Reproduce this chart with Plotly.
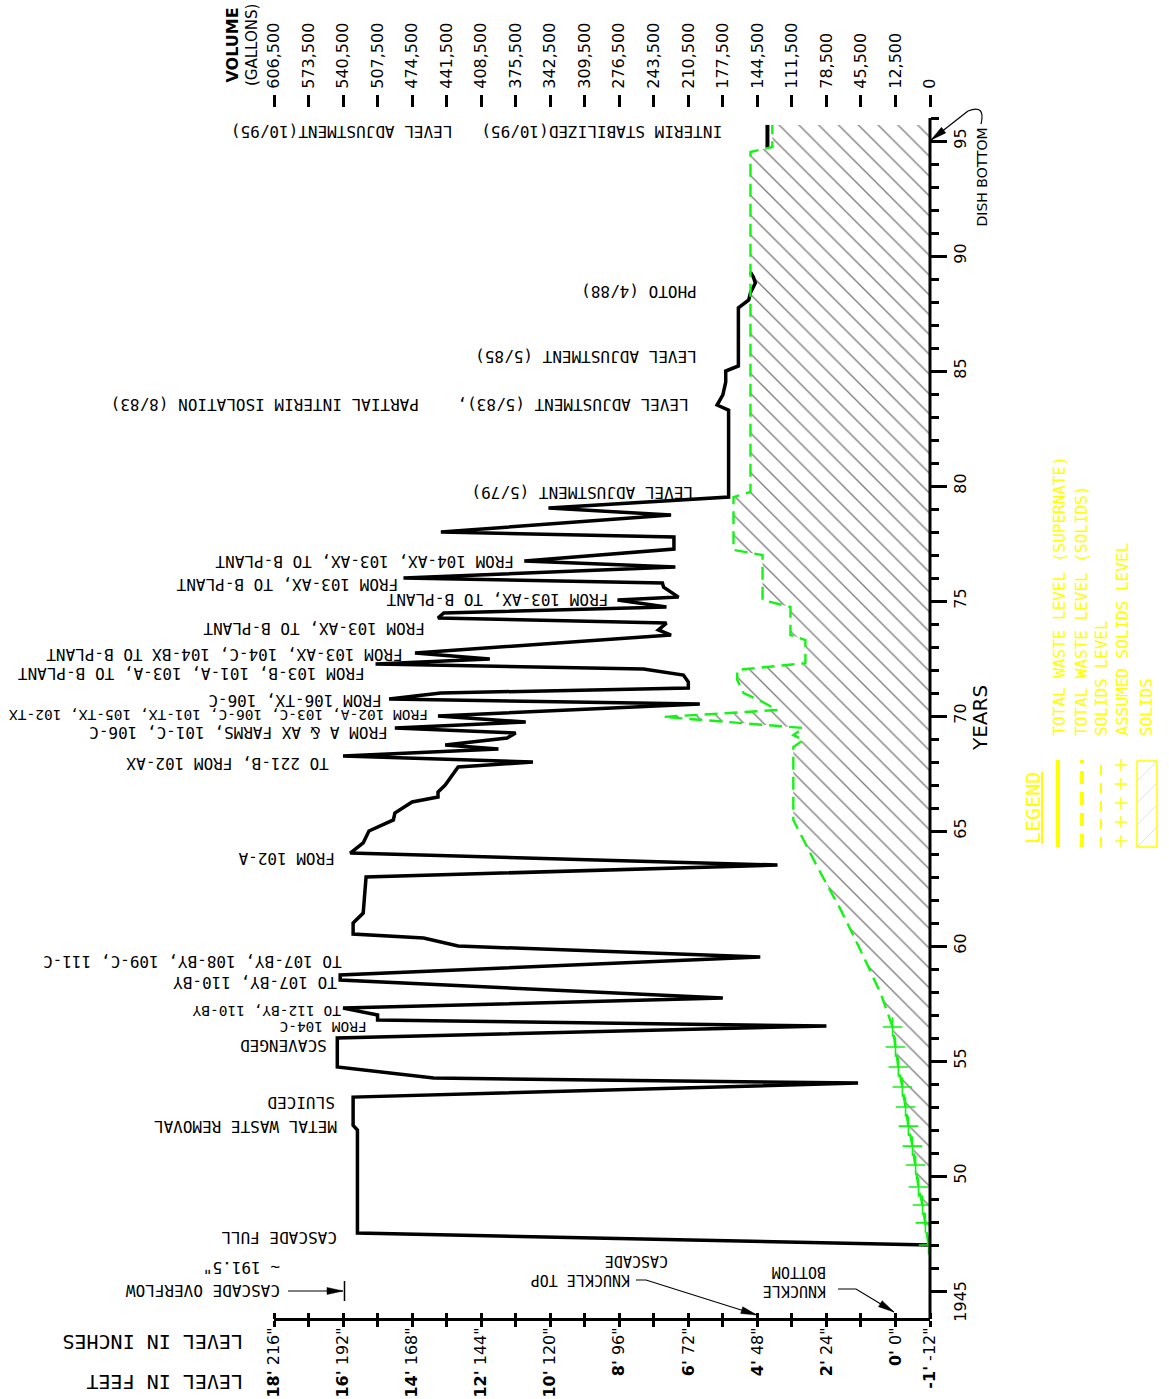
import math
import plotly.graph_objects as go

# ---------------- data ----------------
# Total waste level (supernate): year vs level in inches above the knuckle bottom
sup_year = [1947.00, 1947.52, 1952.00, 1952.20, 1953.43, 1954.04, 1954.26, 1954.74, 1956.00, 1956.52,
            1956.78, 1957.00, 1957.30, 1957.74, 1958.52, 1958.74, 1959.52, 1960.00, 1960.35, 1960.52,
            1961.00, 1961.43, 1963.00, 1963.52, 1964.04, 1964.48, 1965.00, 1965.48, 1965.78, 1966.26,
            1966.48, 1966.70, 1967.00, 1967.78, 1968.00, 1968.26, 1968.57, 1968.74, 1969.04, 1969.26,
            1969.48, 1969.74, 1970.00, 1970.52, 1970.74, 1971.00, 1971.22, 1971.48, 1971.78, 1972.04,
            1972.26, 1972.48, 1972.74, 1973.52, 1973.74, 1974.04, 1974.26, 1974.48, 1974.74, 1975.04,
            1975.17, 1975.60, 1975.78, 1976.00, 1976.48, 1976.74, 1977.26, 1977.78, 1978.00, 1978.74,
            1979.04, 1979.52, 1983.30, 1983.52, 1983.96, 1984.52, 1985.00, 1985.22, 1987.74, 1988.09,
            1988.40, 1988.83, 1989.09, 1989.30]
sup_level = [-12.0, 187.0, 187.0, 188.5, 188.5, 13.0, 160.5, 194.0, 194.0, 24.0,
             180.0, 180.0, 192.0, 60.0, 193.0, 193.0, 47.0, 152.0, 164.0, 188.5,
             188.5, 185.0, 184.0, 41.0, 189.5, 185.0, 183.0, 174.5, 174.0, 168.0,
             159.0, 159.0, 156.5, 152.0, 126.0, 192.0, 138.0, 156.5, 135.0, 132.0,
             174.0, 128.5, 159.0, 68.0, 176.0, 158.0, 72.0, 72.0, 73.7, 87.6,
             180.7, 141.0, 167.0, 78.0, 82.4, 79.6, 159.0, 157.0, 79.6, 96.6,
             75.4, 80.6, 81.0, 171.0, 76.5, 129.0, 77.0, 77.0, 158.0, 78.0,
             120.6, 58.0, 58.0, 62.0, 60.0, 59.0, 59.0, 54.6, 54.6, 51.0,
             50.4, 48.7, 49.4, 50.4]

# Total waste level (solids) after interim stabilization
tws_year = [1994.70, 1995.70]
tws_level = [44.5, 44.5]

# Solids level
sol_year = [1956.48, 1957.96, 1959.83, 1961.57, 1963.40, 1964.60, 1965.48, 1968.65, 1968.96, 1969.17,
            1969.48, 1969.96, 1970.26, 1970.60, 1971.00, 1971.57, 1972.00, 1972.30, 1973.30, 1973.52,
            1974.74, 1975.04, 1977.00, 1977.22, 1979.52, 1979.74, 1994.52, 1994.74, 1995.70]
sol_level = [1.0, 5.2, 12.2, 19.0, 27.0, 32.0, 35.5, 35.5, 32.0, 35.5,
             32.0, 80.6, 41.0, 46.0, 52.8, 55.0, 55.0, 31.3, 31.3, 36.5,
             36.5, 46.2, 46.2, 56.3, 56.3, 50.4, 50.4, 42.8, 42.8]

# Assumed solids level (early years)
asm_year = [1947.00, 1947.96, 1948.74, 1949.52, 1950.48, 1951.30, 1952.17, 1953.00, 1953.87, 1954.74,
            1955.61, 1956.48]
asm_level = [-11.5, -10.4, -9.4, -8.0, -7.0, -5.9, -4.5, -3.5, -2.4, -1.0, 0.0, 1.0]

# Axis ticks
level_ticks = [216, 204, 192, 180, 168, 156, 144, 132, 120, 108, 96, 84, 72, 60, 48, 36, 24, 12, 0, -12]
level_text = ["<b>18'</b> 216\"", "", "<b>16'</b> 192\"", "", "<b>14'</b> 168\"", "", "<b>12'</b> 144\"", "",
              "<b>10'</b> 120\"", "", "<b>8'</b> 96\"", "", "<b>6'</b> 72\"", "", "<b>4'</b> 48\"", "",
              "<b>2'</b> 24\"", "", "<b>0'</b> 0\"", "<b>-1'</b> -12\""]
volume_text = ["606,500", "573,500", "540,500", "507,500", "474,500", "441,500", "408,500", "375,500",
               "342,500", "309,500", "276,500", "243,500", "210,500", "177,500", "144,500", "111,500",
               "78,500", "45,500", "12,500", "0"]
year_ticks = [1945, 1950, 1955, 1960, 1965, 1970, 1975, 1980, 1985, 1990, 1995]
year_text = ["1945\u00a0\u00a0\u00a0\u00a0\u00a0", "50", "55", "60", "65", "70", "75", "80", "85", "90", "95"]
year_minor = [y for y in range(1946, 1997) if y % 5 != 0]

# Event notes: (text, year, level at the start of the note, font size)
notes = [
    ("CASCADE FULL", 1947.35, 193.6, 16),
    ("METAL WASTE REMOVAL", 1952.13, 193.6, 16),
    ("SLUICED", 1953.22, 194.3, 16),
    ("SCAVENGED", 1955.65, 197.1, 16),
    ("FROM 104-C", 1956.48, 183.2, 14.5),
    ("TO 112-BY, 110-BY", 1957.17, 192.2, 14.5),
    ("TO 107-BY, 110-BY", 1958.39, 193.6, 16),
    ("TO 107-BY, 108-BY, 109-C, 111-C", 1959.30, 191.9, 16),
    ("FROM 102-A", 1963.83, 194.3, 16),
    ("TO 221-B, FROM 102-AX", 1967.96, 196.4, 16),
    ("FROM A &amp; AX FARMS, 101-C, 106-C", 1969.26, 175.9, 16),
    ("FROM 102-A, 103-C, 106-C, 101-TX, 105-TX, 102-TX", 1970.04, 161.6, 14.5),
    ("FROM 106-TX, 106-C", 1970.70, 178.0, 16),
    ("FROM 103-B, 101-A, 103-A, TO B-PLANT", 1971.87, 183.9, 16),
    ("FROM 103-AX, 104-C, 104-BX TO B-PLANT", 1972.70, 170.7, 16),
    ("FROM 103-AX, TO B-PLANT", 1973.83, 163.0, 16),
    ("FROM 103-AX, TO B-PLANT", 1975.04, 99.0, 16),
    ("FROM 103-AX, TO B-PLANT", 1975.74, 172.0, 16),
    ("FROM 104-AX, 103-AX, TO B-PLANT", 1976.74, 131.7, 16),
    ("LEVEL ADJUSTMENT (5/79)", 1979.74, 69.5, 16),
    ("LEVEL ADJUSTMENT (5/83),\u00a0\u00a0\u00a0\u00a0PARTIAL INTERIM ISOLATION (8/83)", 1983.52, 71.3, 16),
    ("LEVEL ADJUSTMENT (5/85)", 1985.60, 68.5, 16),
    ("PHOTO (4/88)", 1988.48, 68.5, 16),
    ("INTERIM STABILIZED(10/95)\u00a0\u00a0\u00a0LEVEL ADJUSTMENT(10/95)", 1995.39, 59.4, 16),
]
OVERFLOW_LEVEL = 191.5

# ---------------- layout geometry ----------------
W, H = 1169, 1399
ML, MR, MT, MB = 274, 239, 95, 81
PW, PH = W - ML - MR, H - MT - MB
YEAR_RANGE = [1943.826, 1997.0]
LEVEL_RANGE = [216, -12]

GREEN = "#11f511"
YELLOW = "#ffff00"
MONO = "DejaVu Sans Mono"
SANS = "DejaVu Sans"


def fx(px):
    return (px - ML) / PW


def fy(py):
    return (H - MB - py) / PH


def pt(x, y):
    return f"{fx(x):.5f},{fy(y):.5f}"


def arrow(points, width=1.2, head_len=16, head_half=3.5, color="black"):
    """Leader line through pixel points with a filled head at the last point."""
    out = [dict(type="path", xref="paper", yref="paper",
                path="M " + " L ".join(pt(x, y) for x, y in points),
                line=dict(color=color, width=width))]
    (x0, y0), (x1, y1) = points[-2], points[-1]
    n = math.hypot(x1 - x0, y1 - y0)
    ux, uy = (x1 - x0) / n, (y1 - y0) / n
    bx, by = x1 - ux * head_len, y1 - uy * head_len
    nx, ny = -uy, ux
    tri = [(x1, y1), (bx + nx * head_half, by + ny * head_half), (bx - nx * head_half, by - ny * head_half)]
    out.append(dict(type="path", xref="paper", yref="paper",
                    path="M " + " L ".join(pt(x, y) for x, y in tri) + " Z",
                    fillcolor=color, line=dict(color=color, width=0.5)))
    return out


fig = go.Figure()

# hatched solids region
fig.add_trace(go.Scatter(
    x=asm_level + sol_level + [-12, -12],
    y=asm_year + sol_year + [sol_year[-1], asm_year[0]],
    mode="lines", fill="toself", line=dict(width=0, color="rgba(0,0,0,0)"),
    fillpattern=dict(shape="\\", size=14, solidity=0.1, fgcolor="black", bgcolor="white"),
    hoverinfo="skip", showlegend=False))

fig.add_trace(go.Scatter(x=sup_level, y=sup_year, mode="lines",
                         line=dict(color="black", width=3.5), showlegend=False, hoverinfo="skip"))
fig.add_trace(go.Scatter(x=tws_level, y=tws_year, mode="lines",
                         line=dict(color="black", width=4), showlegend=False, hoverinfo="skip"))
fig.add_trace(go.Scatter(x=sol_level, y=sol_year, mode="lines",
                         line=dict(color=GREEN, width=2.4, dash="13px,7px"), showlegend=False, hoverinfo="skip"))
fig.add_trace(go.Scatter(x=asm_level, y=asm_year, mode="lines+markers",
                         line=dict(color=GREEN, width=2.4, dash="13px,7px"),
                         marker=dict(symbol="cross-thin", size=14, line=dict(color=GREEN, width=1.6)),
                         showlegend=False, hoverinfo="skip"))
# carriers for the volume scale and the upper half of the level tick marks
for ax in ("x2", "x3"):
    fig.add_trace(go.Scatter(x=[level_ticks[-1]], y=[year_ticks[0]], xaxis=ax, yaxis="y", mode="markers",
                             marker=dict(opacity=0), showlegend=False, hoverinfo="skip"))

shapes = []
# year axis line
shapes.append(dict(type="line", xref="paper", yref="paper", x0=1, x1=1, y0=0, y1=fy(118),
                   line=dict(color="black", width=3)))
# cascade overflow mark
shapes.append(dict(type="line", xref="x", yref="paper", x0=OVERFLOW_LEVEL, x1=OVERFLOW_LEVEL,
                   y0=fy(1281), y1=fy(1301), line=dict(color="black", width=1.5)))
shapes += arrow([(288, 1291), (343, 1291)])
shapes += arrow([(636, 1280), (646, 1280), (757, 1315)])
shapes += arrow([(838, 1289), (856, 1289), (894, 1312)])
# dish bottom leader
shapes.append(dict(type="path", xref="paper", yref="paper",
                   path=f"M {pt(981, 124)} Q {pt(986, 104)} {pt(968, 111)}",
                   line=dict(color="black", width=1.2)))
shapes += arrow([(968, 111), (931, 140)])

# legend symbols
shapes.append(dict(type="line", xref="paper", yref="paper", x0=fx(1058), x1=fx(1058), y0=fy(760), y1=fy(847),
                   line=dict(color=YELLOW, width=4)))
shapes.append(dict(type="line", xref="paper", yref="paper", x0=fx(1082), x1=fx(1082), y0=fy(847), y1=fy(760),
                   line=dict(color=YELLOW, width=4, dash="13px,8px")))
shapes.append(dict(type="line", xref="paper", yref="paper", x0=fx(1101), x1=fx(1101), y0=fy(847), y1=fy(760),
                   line=dict(color=YELLOW, width=2, dash="10px,8px")))
for py in (765, 784, 803, 822, 841):
    shapes.append(dict(type="line", xref="paper", yref="paper", x0=fx(1115), x1=fx(1127), y0=fy(py), y1=fy(py),
                       line=dict(color=YELLOW, width=1.5)))
    shapes.append(dict(type="line", xref="paper", yref="paper", x0=fx(1121), x1=fx(1121), y0=fy(py - 6),
                       y1=fy(py + 6), line=dict(color=YELLOW, width=1.5)))
shapes.append(dict(type="rect", xref="paper", yref="paper", x0=fx(1137), x1=fx(1157), y0=fy(847), y1=fy(761),
                   line=dict(color=YELLOW, width=1.5)))
for yb in (847, 825, 803, 781):
    shapes.append(dict(type="line", xref="paper", yref="paper", x0=fx(1137), x1=fx(1157), y0=fy(yb),
                       y1=fy(yb - 20), line=dict(color=YELLOW, width=1)))

ann = []
for text, yr, lv, size in notes:
    ann.append(dict(text=text, x=lv, y=yr, xref="x", yref="y", showarrow=False, textangle=180,
                    xanchor="right", yanchor="middle", font=dict(family=MONO, size=size, color="black")))


def paper_note(text, px, py, angle, xanchor, yanchor, size, family=MONO, color="black", align="center"):
    ann.append(dict(text=text, x=fx(px), y=fy(py), xref="paper", yref="paper", showarrow=False,
                    textangle=angle, xanchor=xanchor, yanchor=yanchor, align=align,
                    font=dict(family=family, size=size, color=color)))


paper_note("CASCADE OVERFLOW", 282, 1291, 180, "right", "middle", 16)
paper_note("~ 191.5\"", 282, 1268, 180, "right", "middle", 16)
paper_note("CASCADE", 670, 1261, 180, "right", "middle", 15)
paper_note("KNUCKLE TOP", 632, 1280, 180, "right", "middle", 15)
paper_note("KNUCKLE<br>BOTTOM", 828, 1281, 180, "right", "middle", 15, align="left")
paper_note("LEVEL IN INCHES", 245, 1342, 180, "right", "middle", 20)
paper_note("LEVEL IN FEET", 245, 1382, 180, "right", "middle", 20)
paper_note("<b>VOLUME</b>", 232, 85, -90, "center", "bottom", 16, family=SANS)
paper_note("(GALLONS)", 252, 88, -90, "center", "bottom", 15, family=SANS)
paper_note("YEARS", 980, 718, -90, "center", "middle", 20, family=SANS)
paper_note("DISH BOTTOM", 981, 228, -90, "center", "bottom", 14, family=SANS)
paper_note("<u>LEGEND</u>", 1033, 846, -90, "center", "bottom", 20, color=YELLOW)
paper_note("TOTAL WASTE LEVEL (SUPERNATE)", 1059, 738, -90, "center", "bottom", 16, color=YELLOW)
paper_note("TOTAL WASTE LEVEL (SOLIDS)", 1081, 738, -90, "center", "bottom", 16, color=YELLOW)
paper_note("SOLIDS LEVEL", 1101, 738, -90, "center", "bottom", 16, color=YELLOW)
paper_note("ASSUMED SOLIDS LEVEL", 1122, 738, -90, "center", "bottom", 16, color=YELLOW)
paper_note("SOLIDS", 1146, 738, -90, "center", "bottom", 16, color=YELLOW)

tick_font = dict(family=SANS, size=16, color="black")
common_x = dict(range=LEVEL_RANGE, autorange=False, tickmode="array", tickvals=level_ticks,
                showgrid=False, zeroline=False, tickcolor="black", automargin=False)

fig.update_layout(
    width=W, height=H, margin=dict(l=ML, r=MR, t=MT, b=MB, pad=0, autoexpand=False),
    paper_bgcolor="white", plot_bgcolor="white", showlegend=False,
    xaxis=dict(**common_x, ticktext=level_text, ticks="outside", ticklen=6, tickwidth=2.5,
               showline=True, linewidth=3, linecolor="black", tickangle=-90, tickfont=tick_font,
               ticklabelstandoff=-6),
    xaxis2=dict(**common_x, overlaying="x", side="top", anchor="free", position=fy(107),
                ticktext=volume_text, ticks="outside", ticklen=12, tickwidth=3, showline=False,
                tickangle=-90, tickfont=tick_font, ticklabelstandoff=3),
    xaxis3=dict(**common_x, overlaying="x", side="bottom", anchor="free", position=fy(1312),
                ticks="outside", ticklen=6, tickwidth=2.5, showticklabels=False, showline=False),
    yaxis=dict(range=YEAR_RANGE, autorange=False, side="right", tickmode="array", tickvals=year_ticks,
               ticktext=year_text, ticks="outside", ticklen=16, tickwidth=3, tickcolor="black",
               showline=False, showgrid=False, zeroline=False, tickangle=-90, tickfont=tick_font,
               automargin=False,
               minor=dict(tickmode="array", tickvals=year_minor, ticks="outside", ticklen=8, tickwidth=3,
                          tickcolor="black", showgrid=False)),
    shapes=shapes, annotations=ann,
)

fig.write_html("out.html")
